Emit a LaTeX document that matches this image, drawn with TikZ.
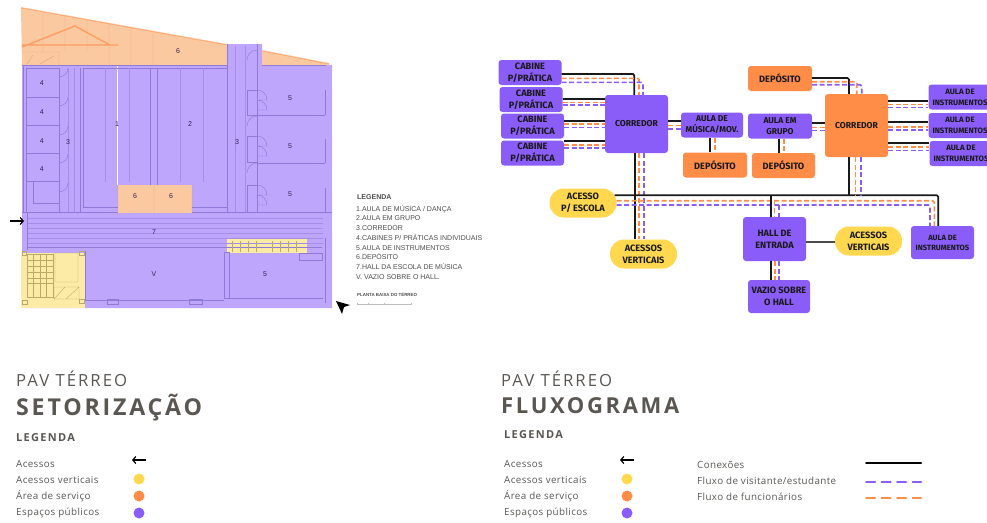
\documentclass[tikz,border=0pt]{standalone}
\usepackage{fontspec}
\usepackage{tikz}
\usepackage{color}
\usetikzlibrary{arrows.meta}
\setmainfont{Open Sans}
\newfontfamily\caixafont{Fira Sans}
\newfontfamily\plantafont{Liberation Sans}
\newfontfamily\titulofont[LetterSpace=12]{Open Sans}
\newfontfamily\legendafont[LetterSpace=4]{Open Sans}
\definecolor{roxo}{HTML}{8A5CF8}
\definecolor{laranja}{HTML}{FF8C47}
\definecolor{amarelo}{HTML}{FFD84F}
\definecolor{roxoclaro}{HTML}{BDA6FC}
\definecolor{laranjaclaro}{HTML}{FBC9A0}
\definecolor{amareloclaro}{HTML}{FCEBA6}
\definecolor{parede}{HTML}{8F7AD8}
\definecolor{telhadocor}{HTML}{DDA47E}
\definecolor{escadacor}{HTML}{B9AA68}
\definecolor{texto}{HTML}{5A5753}
\tikzset{
  caixa/.style={rounded corners=3pt, inner sep=0pt, minimum width=63pt, minimum height=25pt,
    align=center, text=black!90, font=\caixafont\bfseries\fontsize{9.2}{12}\selectfont},
  caixaroxa/.style={caixa, fill=roxo},
  caixalaranja/.style={caixa, fill=laranja},
  pilula/.style={caixa, fill=amarelo, rounded corners=14pt, minimum width=67pt, minimum height=29pt},
  conexao/.style={draw=black!90, line width=1.7pt, rounded corners=1.5pt},
  fluxoroxo/.style={draw=roxo, line width=1.6pt, dash pattern=on 5pt off 2.5pt, rounded corners=1.5pt},
  fluxolaranja/.style={draw=laranja, line width=1.6pt, dash pattern=on 5pt off 2.5pt, rounded corners=1.5pt},
  numero/.style={inner sep=0pt, text=black!65!roxo, font=\plantafont\fontsize{7}{7}\selectfont},
  parede/.style={draw=parede, line width=.6pt},
  listra/.style={draw=parede!55!roxoclaro, line width=.3pt},
  telhado/.style={draw=telhadocor, line width=.4pt},
  escada/.style={draw=escadacor, line width=.35pt},
  linha/.style={inner sep=0pt, anchor=base west, text=black!70, font=\plantafont\fontsize{7}{7}\selectfont},
  legenda/.style={inner sep=0pt, anchor=base west, text=texto, font=\legendafont\fontsize{9.8}{11}\selectfont},
  titulo/.style={inner sep=0pt, anchor=base west, text=texto},
  bolinha/.style={circle, inner sep=0pt, minimum size=11pt},
}
\begin{document}
\begin{tikzpicture}[x=1pt,y=-1pt]
\useasboundingbox (0,0) rectangle (987,522);

% planta
\fill[roxoclaro] (22,65) -- (227,65) -- (227,44) -- (262,44) -- (262,65) -- (332,65) -- (332,308) -- (22,308) -- cycle;
\fill[laranjaclaro] (21,7) -- (227,44) -- (227,65) -- (22,65) -- cycle;
\fill[laranjaclaro] (262,50) -- (329,63) -- (329,65) -- (262,65) -- cycle;
\fill[laranjaclaro] (118,185) rectangle (192,213);
\fill[amareloclaro] (21,253) rectangle (85,308);
\fill[amareloclaro] (227,239) rectangle (307,253);

\draw[telhado] (43,11) -- (43,52) (65,15) -- (65,52) (87,19) -- (87,52) (109,23) -- (109,65) (131,27) -- (131,65) (153,31) -- (153,65) (22,52) -- (59,52) -- (59,65) (27,64) -- (33,55) (40,64) -- (54,56) (118,185) -- (118,213) (154,185) -- (154,213) (192,185) -- (192,213);
\draw[laranja!85, line width=1.4pt] (22,47) -- (75,26) -- (110,45) (22,45) -- (118,45);
\draw[laranja!80, line width=.6pt] (21,8) -- (227,45) (262,51) -- (329,64);
\draw[white, line width=.5pt] (117,65) -- (117,185);

\draw[parede] (22,65) -- (227,65) (262,65) -- (326,65);
\draw[parede] (23,65) -- (23,212) (26,68) -- (26,212) (59,68) -- (59,212);
\draw[parede] (26,68) -- (59,68) (26,97) -- (59,97) (26,125) -- (59,125) (26,153) -- (59,153) (26,181) -- (59,181);
\draw[parede] (33,181) rectangle (59,203) (80,68) -- (80,212) (83,68) -- (83,207) -- (118,207) (150,68) -- (150,185) (83,68) -- (150,68);
\draw[parede] (157,68) -- (157,185) (192,207) -- (227,207) (150,68) -- (157,68) (157,68) -- (227,68) (227,44) -- (227,212) (257,44) -- (257,212);
\draw[parede] (247,90) -- (257,90) (247,90) -- (247,115) -- (257,115) (247,136) -- (257,136) (247,136) -- (247,162) -- (257,162) (247,185) -- (257,185) (247,185) -- (247,212);
\draw[parede] (257,115) -- (325,115) (257,163) -- (325,163) (257,212) -- (332,212) (325,90) -- (325,115) (325,139) -- (325,163) (325,188) -- (325,212);
\draw[parede] (22,212) -- (118,212) (192,212) -- (332,212);
\draw[listra] (68,68) -- (68,212) (74,68) -- (74,212) (235,46) -- (235,212) (245,46) -- (245,212);
\draw[listra] (105,68) -- (105,182) (129,68) -- (129,182) (180,68) -- (180,182) (203,68) -- (203,182);
\draw[listra] (27,218) -- (323,218) (27,223) -- (323,223) (27,228) -- (323,228) (27,233) -- (323,233) (27,238) -- (323,238) (27,243) -- (323,243);
\draw[parede] (27,212) -- (27,250) (27,247) -- (322,247) (325,238) -- (325,303);
\draw[parede] (85,251) -- (85,300) (224,252) rectangle (229,298) (229,298) -- (323,298) (85,300) -- (224,300);
\draw[parede] (299,253) rectangle (322,260) (107,299) rectangle (118,304) (189,299) rectangle (202,304);
\draw[parede, line width=.4pt] (59,77) arc (90:0:9) (59,106) arc (90:0:9) (59,135) arc (90:0:9) (59,163) arc (90:0:9) (59,192) arc (90:0:9);
\draw[parede, line width=.4pt] (247,60) arc (-180:-90:10) (247,126) arc (180:270:10) (247,173) arc (180:270:10);
\draw[parede, line width=.4pt] (257,90) arc (-90:0:10) -- (257,100) (257,100) arc (-90:0:10) -- (257,110) (257,136) arc (-90:0:10) -- (257,146) (257,146) arc (-90:0:10) -- (257,156) (257,185) arc (-90:0:10) -- (257,195) (257,195) arc (-90:0:10) -- (257,205);

% escadas
\draw[escada] (27,254) rectangle (53,297) (27,260) -- (53,260) (27,266) -- (53,266) (27,272) -- (53,272) (27,278) -- (53,278) (27,283) -- (53,283);
\draw[escada] (33,254) -- (33,297) (40,254) -- (40,297) (46,254) -- (46,297);
\draw[escada] (55,253) rectangle (78,282) (54,287) rectangle (79,299) (54,299) -- (65,287) (66,299) -- (79,287);
\draw[escada] (22,300) rectangle (27,304) (79,299) rectangle (84,303) (79,251) rectangle (84,255) (22,251) rectangle (26,255);
\draw[escada] (232,241) -- (232,252) (240,241) -- (240,252) (248,241) -- (248,252) (256,241) -- (256,252) (272,241) -- (272,252) (280,241) -- (280,252) (288,241) -- (288,252) (296,241) -- (296,252);

\node[numero] (salaSeisA) at (178,51) {6};
\node[numero] (salaQuatroA) at (41.7,83) {4};
\node[numero] (salaQuatroB) at (41.7,112) {4};
\node[numero] (salaQuatroC) at (41.7,141) {4};
\node[numero] (salaQuatroD) at (41.7,169) {4};
\node[numero] (salaTresA) at (68,142) {3};
\node[numero] (salaUm) at (117,124) {1};
\node[numero] (salaDois) at (190,124) {2};
\node[numero] (salaTresB) at (237,142) {3};
\node[numero] (salaCincoA) at (290,98) {5};
\node[numero] (salaCincoB) at (290,146) {5};
\node[numero] (salaCincoC) at (290,194) {5};
\node[numero] (salaSeisB) at (135,196) {6};
\node[numero] (salaSeisC) at (171,196) {6};
\node[numero] (salaSete) at (154,232) {7};
\node[numero] (salaVazio) at (154,274) {V};
\node[numero] (salaCincoD) at (265,274) {5};

\draw[black, line width=1.2pt, -{Straight Barb[length=3pt,width=7pt]}] (10,221) -- (24,221);
\fill[black] (336,301) -- (350,305) -- (344,307) -- (342,314) -- cycle;

% legenda da planta
\node[linha, font=\plantafont\bfseries\fontsize{7}{7}\selectfont] (legPlanta) at (357,199.5) {LEGENDA};
\node[linha] (legUm) at (356,211.5) {1.AULA DE MÚSICA / DANÇA};
\node[linha] (legDois) at (356,220.5) {2.AULA EM GRUPO};
\node[linha] (legTres) at (356,230.5) {3.CORREDOR};
\node[linha] (legQuatro) at (356,240.5) {4.CABINES P/ PRÁTICAS INDIVIDUAIS};
\node[linha] (legCinco) at (356,250.5) {5.AULA DE INSTRUMENTOS};
\node[linha] (legSeis) at (356,259.5) {6.DEPÓSITO};
\node[linha] (legSete) at (356,269.5) {7.HALL DA ESCOLA DE MÚSICA};
\node[linha] (legVazio) at (356,279.5) {V. VAZIO SOBRE O HALL.};
\node[linha, font=\plantafont\bfseries\fontsize{4.4}{5}\selectfont] (legTerreo) at (357,296.5) {PLANTA BAIXA DO TÉRREO};
\draw[black!25, line width=.3pt] (357,304) -- (411,304) (357,303) -- (357,305) (368,303) -- (368,305) (384,303) -- (384,305) (411,303) -- (411,305);

% caixas do fluxograma
\node[caixaroxa] (cabineA) at (530,72.5) {CABINE\\P/PRÁTICA};
\node[caixaroxa] (cabineB) at (531,99.5) {CABINE\\P/PRÁTICA};
\node[caixaroxa] (cabineC) at (532.5,126) {CABINE\\P/PRÁTICA};
\node[caixaroxa] (cabineD) at (532.5,153) {CABINE\\P/PRÁTICA};
\node[caixaroxa, minimum height=58pt, font=\caixafont\bfseries\fontsize{8.6}{11}\selectfont] (corredorA) at (636.5,124) {CORREDOR};
\node[caixaroxa, minimum width=62pt, font=\caixafont\bfseries\fontsize{8.5}{11}\selectfont] (aulaMusica) at (712,125) {AULA DE\\MÚSICA/MOV.};
\node[caixalaranja, minimum width=64pt] (depositoA) at (715,165) {DEPÓSITO};
\node[pilula] (acessoEscola) at (583,203) {ACESSO\\P/ ESCOLA};
\node[pilula] (acessosA) at (643.5,254) {ACESSOS\\VERTICAIS};
\node[caixalaranja, minimum width=64pt] (depositoB) at (780,78.5) {DEPÓSITO};
\node[caixaroxa, minimum width=64pt, font=\caixafont\bfseries\fontsize{8.5}{11}\selectfont] (aulaGrupo) at (780,126) {AULA EM\\GRUPO};
\node[caixalaranja] (depositoC) at (783.5,165.5) {DEPÓSITO};
\node[caixalaranja, minimum height=63pt, font=\caixafont\bfseries\fontsize{8.6}{11}\selectfont] (corredorB) at (856.5,125.5) {CORREDOR};
\node[caixaroxa, font=\caixafont\bfseries\fontsize{7.8}{11}\selectfont] (instrA) at (960,97) {AULA DE\\INSTRUMENTOS};
\node[caixaroxa, font=\caixafont\bfseries\fontsize{7.8}{11}\selectfont] (instrB) at (960,125.5) {AULA DE\\INSTRUMENTOS};
\node[caixaroxa, font=\caixafont\bfseries\fontsize{7.8}{11}\selectfont] (instrC) at (961,153.5) {AULA DE\\INSTRUMENTOS};
\node[caixaroxa, minimum height=33pt, font=\caixafont\bfseries\fontsize{7.6}{10}\selectfont] (instrD) at (942.5,242.5) {AULA DE\\INSTRUMENTOS};
\node[caixaroxa, minimum height=44pt] (hall) at (774.5,239) {HALL DE\\ENTRADA};
\node[pilula] (acessosB) at (868.5,241) {ACESSOS\\VERTICAIS};
\node[caixaroxa, minimum width=62pt, minimum height=33pt] (vazio) at (779,296.5) {VAZIO SOBRE\\O HALL};

\coordinate (busHall) at (770.7,195.3);
\coordinate (busHallLaranja) at (774.3,200.7);
\coordinate (busHallRoxo) at (779,205);
\coordinate (busCorredor) at (849,195.3);
\coordinate (busCorredorLaranja) at (855.3,195.3);
\coordinate (busCorredorRoxo) at (860.7,195.3);

% conexoes
\draw[conexao] ([yshift=-1.5pt]cabineA.east) -| ([xshift=-2.2pt]corredorA.north);
\draw[fluxolaranja] ([yshift=-5.8pt]cabineA.east) -| ([xshift=2.5pt]corredorA.north);
\draw[fluxoroxo] ([yshift=-9.8pt]cabineA.east) -| ([xshift=6.5pt]corredorA.north);
\draw[conexao] ([yshift=.5pt]cabineB.east) -- ([yshift=25pt]corredorA.west);
\draw[fluxolaranja] ([yshift=-2.8pt]cabineB.east) -- ([yshift=21.7pt]corredorA.west);
\draw[fluxoroxo] ([yshift=-5.5pt]cabineB.east) -- ([yshift=19pt]corredorA.west);
\draw[conexao] ([yshift=5.3pt]cabineC.east) -- ([yshift=3.3pt]corredorA.west);
\draw[fluxolaranja] ([yshift=2pt]cabineC.east) -- ([yshift=0pt]corredorA.west);
\draw[fluxoroxo] ([yshift=-1.3pt]cabineC.east) -- ([yshift=-3.3pt]corredorA.west);
\draw[conexao] ([yshift=12.3pt]cabineD.east) -- ([yshift=-16.7pt]corredorA.west);
\draw[fluxolaranja] ([yshift=8.3pt]cabineD.east) -- ([yshift=-20.7pt]corredorA.west);
\draw[fluxoroxo] ([yshift=5pt]cabineD.east) -- ([yshift=-24pt]corredorA.west);
\draw[conexao] ([yshift=2.7pt]corredorA.east) -- ([yshift=3.7pt]aulaMusica.west);
\draw[fluxolaranja] ([yshift=-1.3pt]corredorA.east) -- ([yshift=-.3pt]aulaMusica.west);
\draw[fluxoroxo] ([yshift=-5pt]corredorA.east) -- ([yshift=-4pt]aulaMusica.west);
\draw[conexao] ([xshift=-2pt]aulaMusica.south) -- ([xshift=-5pt]depositoA.north);
\draw[fluxolaranja] ([xshift=2.7pt]aulaMusica.south) -- ([xshift=-.3pt]depositoA.north);
\draw[conexao] ([xshift=-1.5pt]corredorA.south) -- ([xshift=-8.5pt]acessosA.north);
\draw[fluxolaranja] ([xshift=2.5pt]corredorA.south) -- ([xshift=-4.5pt]acessosA.north);
\draw[fluxoroxo] ([xshift=7.2pt]corredorA.south) -- ([xshift=.2pt]acessosA.north);
\draw[conexao] ([xshift=-2pt,yshift=7.7pt]acessoEscola.east) -| ([xshift=-4.2pt]instrD.north);
\draw[fluxolaranja] ([yshift=2.3pt]acessoEscola.east) -| ([xshift=-8.2pt]instrD.north);
\draw[fluxoroxo] ([yshift=-2pt]acessoEscola.east) -| ([xshift=-12.5pt]instrD.north);
\draw[conexao] (busHall) -- ([xshift=-3.8pt]hall.north);
\draw[fluxolaranja] (busHallLaranja) -- ([xshift=-.2pt]hall.north);
\draw[fluxoroxo] (busHallRoxo) -- ([xshift=4.5pt]hall.north);
\draw[conexao] ([xshift=-7.5pt]corredorB.south) -- (busCorredor);
\draw[fluxolaranja] ([xshift=-1.2pt]corredorB.south) -- (busCorredorLaranja);
\draw[fluxoroxo] ([xshift=4.2pt]corredorB.south) -- (busCorredorRoxo);
\draw[conexao] ([yshift=.5pt]depositoB.east) -| ([xshift=-7.5pt]corredorB.north);
\draw[fluxolaranja] ([yshift=-3.2pt]depositoB.east) -| ([xshift=.2pt]corredorB.north);
\draw[fluxoroxo] ([yshift=-6.2pt]depositoB.east) -| ([xshift=5.2pt]corredorB.north);
\draw[conexao] ([yshift=2.7pt]aulaGrupo.east) -- ([yshift=2.2pt]corredorB.west);
\draw[fluxolaranja] ([yshift=-1.3pt]aulaGrupo.east) -- ([yshift=-1.8pt]corredorB.west);
\draw[fluxoroxo] ([yshift=-4.3pt]aulaGrupo.east) -- ([yshift=-4.8pt]corredorB.west);
\draw[conexao] ([xshift=-.7pt]aulaGrupo.south) -- ([xshift=-4.2pt]depositoC.north);
\draw[fluxolaranja] ([xshift=3.7pt]aulaGrupo.south) -- ([xshift=.2pt]depositoC.north);
\draw[conexao, line width=2pt] ([yshift=24.5pt]corredorB.east) -- ([yshift=-4pt]instrA.west);
\draw[fluxolaranja] ([yshift=21.2pt]corredorB.east) -- ([yshift=-7.3pt]instrA.west);
\draw[fluxoroxo] ([yshift=18.2pt]corredorB.east) -- ([yshift=-10.3pt]instrA.west);
\draw[conexao] ([yshift=3.2pt]corredorB.east) -- ([yshift=3.2pt]instrB.west);
\draw[fluxolaranja] ([yshift=-1.2pt]corredorB.east) -- ([yshift=-1.2pt]instrB.west);
\draw[fluxoroxo] ([yshift=-4.5pt]corredorB.east) -- ([yshift=-4.5pt]instrB.west);
\draw[conexao] ([yshift=-17.8pt]corredorB.east) -- ([yshift=10.2pt]instrC.west);
\draw[fluxolaranja] ([yshift=-21.5pt]corredorB.east) -- ([yshift=6.5pt]instrC.west);
\draw[fluxoroxo] ([yshift=-24.8pt]corredorB.east) -- ([yshift=3.2pt]instrC.west);
\draw[conexao, draw=black!70, line width=1.8pt] ([yshift=-2.7pt]hall.east) -- ([yshift=-.7pt]acessosB.west);
\draw[conexao] ([xshift=-3.8pt]hall.south) -- ([xshift=-8.3pt]vazio.north);
\draw[fluxolaranja] ([xshift=.2pt]hall.south) -- ([xshift=-4.3pt]vazio.north);
\draw[fluxoroxo] ([xshift=4.2pt]hall.south) -- ([xshift=-.3pt]vazio.north);

% titulos
\node[titulo, font=\titulofont\fontsize{16.7}{17}\selectfont] (pavA) at (16,386) {PAV TÉRREO};
\node[titulo, font=\titulofont\bfseries\fontsize{23.2}{24}\selectfont] (setorizacao) at (16,415) {SETORIZAÇÃO};
\node[titulo, font=\titulofont\bfseries\fontsize{11}{12}\selectfont] (legendaA) at (16,441) {LEGENDA};
\node[titulo, font=\titulofont\fontsize{16.7}{17}\selectfont] (pavB) at (501,386) {PAV TÉRREO};
\node[titulo, font=\titulofont\bfseries\fontsize{22}{23}\selectfont] (fluxograma) at (501,413) {FLUXOGRAMA};
\node[titulo, font=\titulofont\bfseries\fontsize{11}{12}\selectfont] (legendaB) at (504,438) {LEGENDA};

% legendas
\node[legenda] (acessosTxtA) at (16,467) {Acessos};
\node[legenda] (verticaisTxtA) at (16,483) {Acessos verticais};
\node[legenda] (servicoTxtA) at (16,499) {Área de serviço};
\node[legenda] (publicosTxtA) at (16,515) {Espaços públicos};
\node[legenda] (acessosTxtB) at (504,467) {Acessos};
\node[legenda] (verticaisTxtB) at (504,483) {Acessos verticais};
\node[legenda] (servicoTxtB) at (504,499) {Área de serviço};
\node[legenda] (publicosTxtB) at (504,515) {Espaços públicos};
\node[legenda] (conexoesTxt) at (697,468) {Conexões};
\node[legenda] (visitanteTxt) at (697,484) {Fluxo de visitante/estudante};
\node[legenda] (funcionarioTxt) at (697,500) {Fluxo de funcionários};

\node[bolinha, fill=amarelo] (dotAmareloA) at (139,479) {};
\node[bolinha, fill=laranja] (dotLaranjaA) at (139,496) {};
\node[bolinha, fill=roxo] (dotRoxoA) at (139,513) {};
\node[bolinha, fill=amarelo] (dotAmareloB) at (627,479) {};
\node[bolinha, fill=laranja] (dotLaranjaB) at (627,496) {};
\node[bolinha, fill=roxo] (dotRoxoB) at (627,513) {};

\draw[black, line width=1.2pt, -{Straight Barb[length=3pt,width=7pt]}] (146,460) -- (132,460);
\draw[black, line width=1.2pt, -{Straight Barb[length=3pt,width=7pt]}] (634,460) -- (620,460);
\draw[black, line width=2pt, line cap=round] (866,463) -- (921,463);
\draw[roxo, line width=2pt, line cap=round, dash pattern=on 9pt off 6.5pt] (866,482) -- (921,482);
\draw[laranja, line width=2pt, line cap=round, dash pattern=on 9pt off 6.5pt] (866,498) -- (921,498);

\end{tikzpicture}
\end{document}
